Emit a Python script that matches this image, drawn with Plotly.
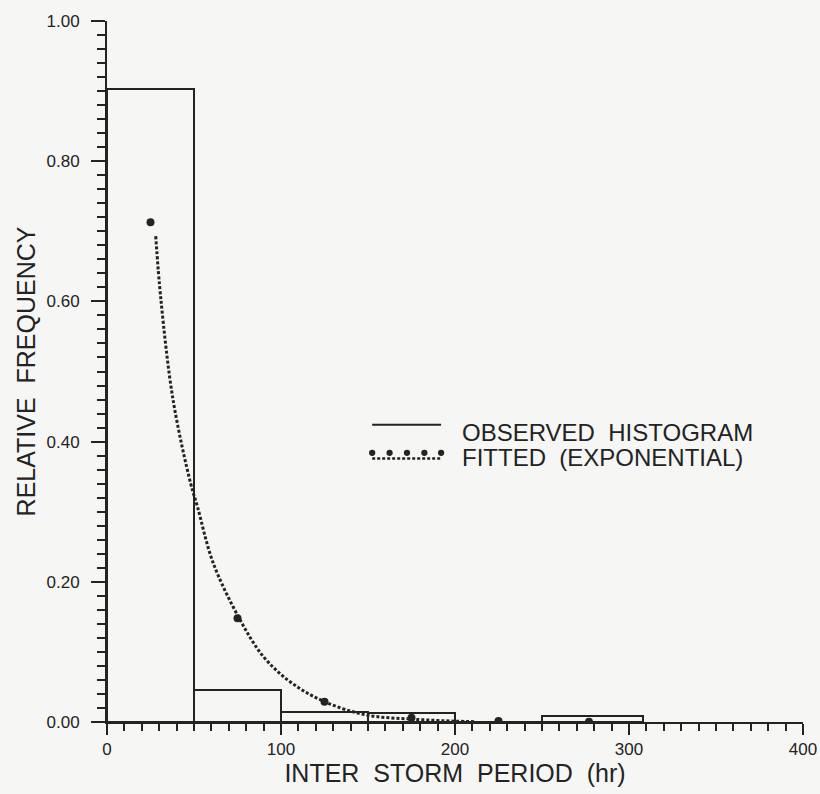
import plotly.graph_objects as go

# ---- data ----
bin_edges = [0, 50, 100, 150, 200, 250, 308]
observed_freq = [0.903, 0.046, 0.014, 0.013, 0.0, 0.009]

fitted_mid_x = [25, 75, 125, 175, 225, 277]
fitted_mid_y = [0.713, 0.148, 0.029, 0.006, 0.0015, 0.0003]

curve_x = [28, 31, 38, 48, 52, 61, 76, 90, 106, 125, 149, 176, 200, 212]
curve_y = [0.693, 0.602, 0.459, 0.341, 0.307, 0.227, 0.148, 0.093, 0.056, 0.029, 0.010, 0.004, 0.0012, 0.0004]

x_tick_vals = [0, 100, 200, 300, 400]
x_tick_text = ["0", "100", "200", "300", "400"]
y_tick_vals = [0.0, 0.2, 0.4, 0.6, 0.8, 1.0]
y_tick_text = ["0.00", "0.20", "0.40", "0.60", "0.80", "1.00"]

legend_labels = ["OBSERVED\u00a0 HISTOGRAM", "FITTED\u00a0 (EXPONENTIAL)"]

INK = "#232323"
BG = "#f6f6f5"
FONT = "Liberation Sans, Arial, sans-serif"

centers = [(a + b) / 2 for a, b in zip(bin_edges[:-1], bin_edges[1:])]
widths = [b - a for a, b in zip(bin_edges[:-1], bin_edges[1:])]

fig = go.Figure()
fig.add_trace(go.Bar(
    x=centers, y=observed_freq, width=widths,
    marker=dict(color="rgba(0,0,0,0)", line=dict(color=INK, width=2)),
    showlegend=False, hoverinfo="skip",
))
fig.add_trace(go.Scatter(
    x=curve_x, y=curve_y, mode="lines",
    line=dict(color=INK, width=3, dash="3px,2px", shape="spline", smoothing=1.0),
    showlegend=False, hoverinfo="skip",
))
fig.add_trace(go.Scatter(
    x=fitted_mid_x, y=fitted_mid_y, mode="markers",
    marker=dict(color=INK, size=8, symbol="circle"),
    showlegend=False, hoverinfo="skip",
))

# ---- hand-drawn style legend (paper coordinates) ----
shapes = [
    dict(type="line", xref="paper", yref="paper", x0=0.381, x1=0.480, y0=0.424, y1=0.424,
         line=dict(color=INK, width=2)),
    dict(type="line", xref="paper", yref="paper", x0=0.381, x1=0.480, y0=0.376, y1=0.376,
         line=dict(color=INK, width=2.5, dash="3px,2px")),
]
for xp in [0.381, 0.406, 0.431, 0.456, 0.480]:
    shapes.append(dict(type="circle", xref="paper", yref="paper",
                       x0=xp - 0.0045, x1=xp + 0.0045, y0=0.384 - 0.0045, y1=0.384 + 0.0045,
                       fillcolor=INK, line=dict(color=INK, width=0)))

annotations = [
    dict(text=legend_labels[0], xref="paper", yref="paper", x=0.507, y=0.413,
         xanchor="left", yanchor="middle", showarrow=False,
         font=dict(family=FONT, size=24, color=INK)),
    dict(text=legend_labels[1], xref="paper", yref="paper", x=0.507, y=0.378,
         xanchor="left", yanchor="middle", showarrow=False,
         font=dict(family=FONT, size=24, color=INK)),
]

fig.update_layout(
    width=820, height=794,
    margin=dict(l=107, r=17, t=21, b=72, autoexpand=False),
    paper_bgcolor=BG, plot_bgcolor=BG,
    shapes=shapes, annotations=annotations,
    bargap=0,
    font=dict(family=FONT, color=INK),
)
fig.update_xaxes(
    range=[0, 400], showgrid=False, zeroline=False,
    showline=True, linecolor=INK, linewidth=2,
    ticks="outside", ticklen=11, tickwidth=2, tickcolor=INK,
    tickvals=x_tick_vals, ticktext=x_tick_text,
    tickfont=dict(family=FONT, size=17, color=INK),
    ticklabelstandoff=0,
    minor=dict(dtick=10, ticks="outside", ticklen=7, tickwidth=2, tickcolor=INK, showgrid=False),
    title=dict(text="INTER\u00a0 STORM\u00a0 PERIOD\u00a0 (hr)", standoff=6,
               font=dict(family=FONT, size=25, color=INK)),
    automargin=False,
)
fig.update_yaxes(
    range=[0, 1.0], showgrid=False, zeroline=False,
    showline=True, linecolor=INK, linewidth=2,
    ticks="outside", ticklen=14, tickwidth=2, tickcolor=INK,
    tickvals=y_tick_vals, ticktext=y_tick_text,
    tickfont=dict(family=FONT, size=17, color=INK),
    ticklabelstandoff=8,
    minor=dict(dtick=0.02, ticks="outside", ticklen=8, tickwidth=2, tickcolor=INK, showgrid=False),
    title=dict(text="RELATIVE\u00a0 FREQUENCY", standoff=4,
               font=dict(family=FONT, size=25, color=INK)),
    automargin=False,
)

fig.write_html(
    "out.html",
    config={"displayModeBar": False},
    post_script="document.body.style.margin='0';document.body.style.padding='0';",
)
